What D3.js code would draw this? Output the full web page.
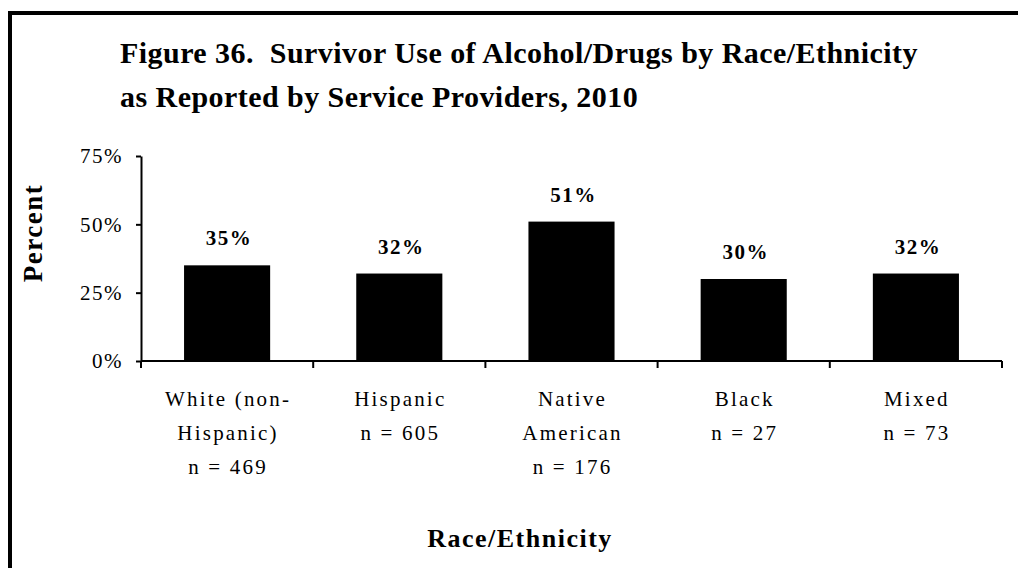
<!DOCTYPE html>
<html>
<head>
<meta charset="utf-8">
<script src="https://cdn.jsdelivr.net/npm/d3@7"></script>
<style>
  body { margin: 0; background: #fff; }
  svg text { font-family: "Liberation Serif", "Times New Roman", serif; fill: #000; }
</style>
</head>
<body>
<div id="main-diagram"></div>
<script>
// chart data
const categories = ['White (non-Hispanic)', 'Hispanic', 'Native American', 'Black', 'Mixed']
const categoryLines = [
    ['White (non-', 'Hispanic)', 'n = 469'],
    ['Hispanic', 'n = 605'],
    ['Native', 'American', 'n = 176'],
    ['Black', 'n = 27'],
    ['Mixed', 'n = 73']
]
const percentValues = [35, 32, 51, 30, 32]
const yTickValues = [0, 25, 50, 75]
const titleLines = ['Figure 36.  Survivor Use of Alcohol/Drugs by Race/Ethnicity',
    'as Reported by Service Providers, 2010']

const width = 1018
const height = 568
const plot = { left: 141, right: 1002, top: 156, bottom: 361 }

const svg = d3.select('#main-diagram')
    .append('svg')
    .attr('width', width)
    .attr('height', height)

// outer frame (only left and top edges are visible)
svg.append('path')
    .attr('d', `M10,${height + 10} L10,13 L${width + 10},13`)
    .attr('fill', 'none')
    .attr('stroke', '#000')
    .attr('stroke-width', 4)

// title
svg.selectAll('text.title')
    .data(titleLines)
    .enter()
    .append('text')
    .attr('class', 'title')
    .attr('x', 120)
    .attr('y', (d, i) => 63 + i * 44)
    .style('font-size', '30px')
    .style('font-weight', 'bold')
    .style('letter-spacing', '0.45px')
    .style('white-space', 'pre')
    .text(d => d)

const x = d3.scaleBand()
    .domain(categories)
    .range([plot.left, plot.right])
    .paddingInner(0.5)
    .paddingOuter(0.25)

const y = d3.scaleLinear()
    .domain([0, 75])
    .range([plot.bottom, plot.top])

// bars
svg.selectAll('rect.bar')
    .data(percentValues)
    .enter()
    .append('rect')
    .attr('class', 'bar')
    .attr('x', (d, i) => x(categories[i]))
    .attr('y', d => y(d))
    .attr('width', x.bandwidth())
    .attr('height', d => y(0) - y(d))
    .attr('fill', '#000')

// value labels
svg.selectAll('text.value')
    .data(percentValues)
    .enter()
    .append('text')
    .attr('class', 'value')
    .attr('x', (d, i) => x(categories[i]) + x.bandwidth() / 2 + 2)
    .attr('y', d => y(d) - 20)
    .attr('text-anchor', 'middle')
    .style('font-size', '21px')
    .style('font-weight', 'bold')
    .style('letter-spacing', '1.5px')
    .text(d => d + '%')

// y axis
const yAxis = svg.append('g')
    .attr('transform', `translate(${plot.left},0)`)
    .call(d3.axisLeft(y)
        .tickValues(yTickValues)
        .tickSize(5)
        .tickSizeOuter(0)
        .tickPadding(13)
        .tickFormat(d => d + '%'))
yAxis.select('.domain').attr('stroke-width', 2)
yAxis.selectAll('.tick line').attr('stroke-width', 2)
yAxis.selectAll('.tick text')
    .style('font-family', '"Liberation Serif", "Times New Roman", serif')
    .style('font-size', '21px')
    .style('letter-spacing', '1.5px')

// x axis: baseline plus separators between categories
const xAxis = svg.append('g')
xAxis.append('line')
    .attr('x1', plot.left)
    .attr('x2', plot.right)
    .attr('y1', y(0))
    .attr('y2', y(0))
    .attr('stroke', '#000')
    .attr('stroke-width', 2)
xAxis.selectAll('line.sep')
    .data(d3.range(categories.length + 1))
    .enter()
    .append('line')
    .attr('class', 'sep')
    .attr('x1', i => plot.left + i * x.step())
    .attr('x2', i => plot.left + i * x.step())
    .attr('y1', y(0))
    .attr('y2', y(0) + 7)
    .attr('stroke', '#000')
    .attr('stroke-width', 2)

// category labels
const catLabels = svg.selectAll('text.cat')
    .data(categoryLines)
    .enter()
    .append('text')
    .attr('class', 'cat')
    .attr('text-anchor', 'middle')
    .style('font-size', '21px')
    .style('letter-spacing', '2.2px')
catLabels.selectAll('tspan')
    .data((d, i) => d.map(line => ({ line, i })))
    .enter()
    .append('tspan')
    .attr('x', d => x(categories[d.i]) + x.bandwidth() / 2 + 1)
    .attr('y', (d, j) => y(0) + 45 + j * 34)
    .text(d => d.line)

// axis titles
svg.append('text')
    .attr('transform', 'translate(42,233) rotate(-90)')
    .attr('text-anchor', 'middle')
    .style('font-size', '27px')
    .style('font-weight', 'bold')
    .style('letter-spacing', '1.5px')
    .text('Percent')

svg.append('text')
    .attr('x', 520)
    .attr('y', 547)
    .attr('text-anchor', 'middle')
    .style('font-size', '26px')
    .style('font-weight', 'bold')
    .style('letter-spacing', '1.5px')
    .text('Race/Ethnicity')
</script>
</body>
</html>
